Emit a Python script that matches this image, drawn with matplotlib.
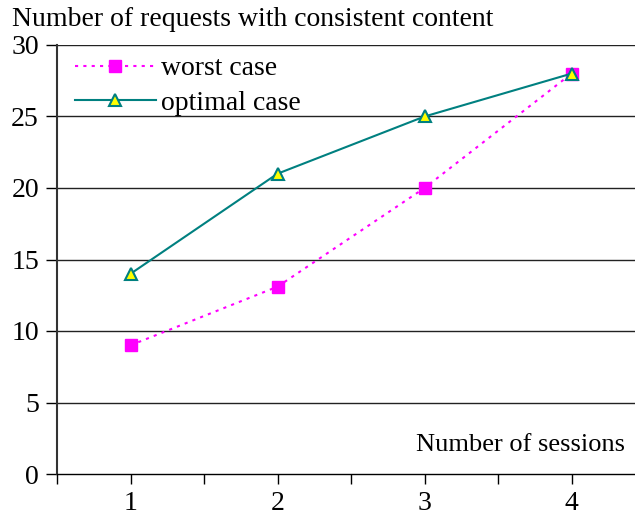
import matplotlib
matplotlib.use("Agg")
import matplotlib.pyplot as plt
from matplotlib.ticker import FixedLocator

sessions = [1, 2, 3, 4]
worst_case = [9, 13.1, 20, 28]
optimal_case = [14, 21, 25, 28]
y_ticks = [0, 5, 10, 15, 20, 25, 30]

plt.rcParams['font.family'] = ['Liberation Serif', 'DejaVu Serif']

fig = plt.figure(figsize=(6.35, 5.16), dpi=100)
ax = fig.add_axes([57/635, 42/516, 1 - 57/635, (474-45)/516])

ax.set_xlim(0.5, 0.5 + 578/147)
ax.set_ylim(0, 30)

for y in y_ticks[1:]:
    ax.axhline(y, color='#222222', lw=1.0, zorder=1)

ax.plot(sessions, worst_case, color='#FF00FF', lw=1.5, linestyle=(0, (1.5, 2.5)),
        marker='s', markersize=8, markerfacecolor='#FF00FF', markeredgecolor='#FF00FF',
        label='worst case', zorder=3)
ax.plot(sessions, optimal_case, color='#008080', lw=1.5, linestyle='-',
        marker='^', markersize=9, markerfacecolor='#FFFF00', markeredgecolor='#008080',
        markeredgewidth=1.5, label='optimal case', zorder=4)

ax.spines['top'].set_visible(False)
ax.spines['right'].set_visible(False)
ax.spines['left'].set_linewidth(1.5)
ax.spines['left'].set_color('#333333')
ax.spines['bottom'].set_linewidth(1.0)

ax.yaxis.set_major_locator(FixedLocator(y_ticks))
ax.set_yticklabels([str(v) for v in y_ticks])
ax.xaxis.set_major_locator(FixedLocator(sessions))
ax.set_xticklabels([str(s) for s in sessions])
ax.xaxis.set_minor_locator(FixedLocator([0.5, 1.5, 2.5, 3.5, 4.5]))
ax.tick_params(axis='y', direction='out', length=8, width=1, labelsize=20, pad=5)
ax.tick_params(axis='x', which='both', direction='out', length=7, width=1, labelsize=20, pad=5)

leg = ax.legend(loc='upper left', bbox_to_anchor=(18/578, 1 - 11/429), frameon=False, fontsize=20,
                handlelength=2.9, handletextpad=0.2, labelspacing=0.33, borderaxespad=0.0,
                borderpad=0.0)

fig.text(12/635, 1 - 20/516, 'Number of requests with consistent content', fontsize=20,
         ha='left', va='center')
fig.text(625/635, 1 - 445/516, 'Number of sessions', fontsize=19, ha='right', va='center')

fig.savefig('out.png', dpi=100)
